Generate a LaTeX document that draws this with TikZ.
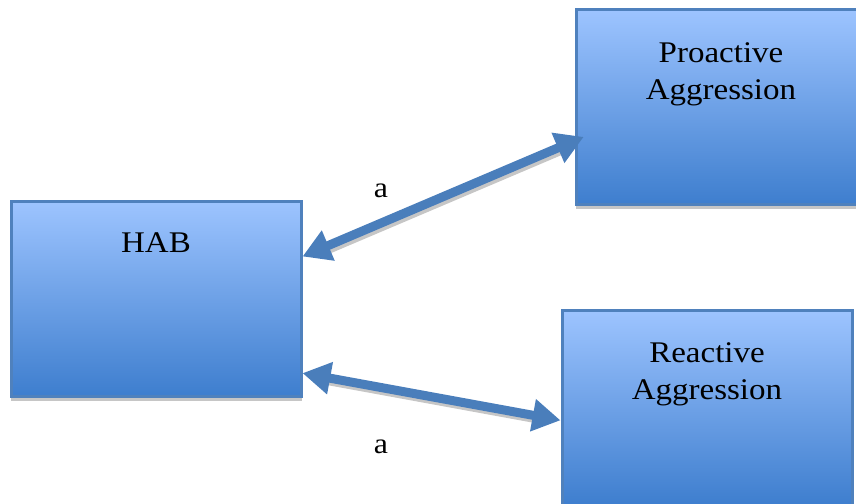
\documentclass[tikz,border=0pt]{standalone}
\usepackage{fontspec}
\setmainfont{Liberation Serif}[FakeStretch=1.1]
\usepackage{tikz}
\usetikzlibrary{arrows.meta,positioning,calc}
\usepackage{xcolor}
\definecolor{boxtop}{RGB}{157,196,255}
\definecolor{boxmid}{RGB}{122,166,234}
\definecolor{boxbot}{RGB}{62,126,206}
\definecolor{boxline}{RGB}{79,129,189}
\definecolor{linkblue}{RGB}{74,126,187}
\tikzstyle{construct} = [rectangle, minimum width=290pt, minimum height=195pt, inner sep=0pt, draw=boxline, line width=3pt, top color=boxtop, middle color=boxmid, bottom color=boxbot]
\tikzstyle{boxshadow} = [fill=gray!45, draw=none]
\tikzstyle{boxtext} = [anchor=base, align=center, font=\fontsize{30}{37}\selectfont, inner sep=0pt]
\tikzstyle{link} = [line width=9pt, color=linkblue, {Triangle[length=28pt,width=31pt]}-{Triangle[length=28pt,width=31pt]}]
\tikzstyle{linkshadow} = [line width=9pt, color=gray!45, shorten <=16pt, shorten >=16pt]

\begin{document}
\begin{tikzpicture}[x=1pt, y=-1pt]
    \useasboundingbox (0,0) rectangle (856,503);
    \clip (0,0) rectangle (856,503);
    % Shadows
    \fill[boxshadow] (11,396) rectangle (302,401);
    \fill[boxshadow] (576,204) rectangle (866,209);

    % Nodes
    \node[construct] (hab) at (156,298.5) {};
    \node[construct] (pro) at (721,107) {};
    \node[construct] (rea) at (707,407.5) {};
    \node[boxtext] (habtxt) at ($(hab.north)+(0,53)$) {HAB};
    \node[boxtext, anchor=north] (protxt) at ($(pro.north)+(0,34)$) {Proactive\\Aggression};
    \node[boxtext, anchor=north] (reatxt) at ($(rea.north)+(0,34)$) {Reactive\\Aggression};

    % Labels
    \node[boxtext, anchor=center, font=\fontsize{29}{30}\selectfont] (lblpro) at (381,191) {a};
    \node[boxtext, anchor=center, font=\fontsize{29}{30}\selectfont] (lblrea) at (381,447) {a};

    % Arrows
    \draw[linkshadow, transform canvas={shift={(2pt,-3pt)}}] (hab.16) -- (pro.193);
    \draw[linkshadow, transform canvas={shift={(1pt,-3pt)}}] (hab.-27) -- (rea.185);
    \draw[link, shorten >=-10pt] (hab.16) -- (pro.193);
    \draw[link] (hab.-27) -- (rea.185);
\end{tikzpicture}
\end{document}
